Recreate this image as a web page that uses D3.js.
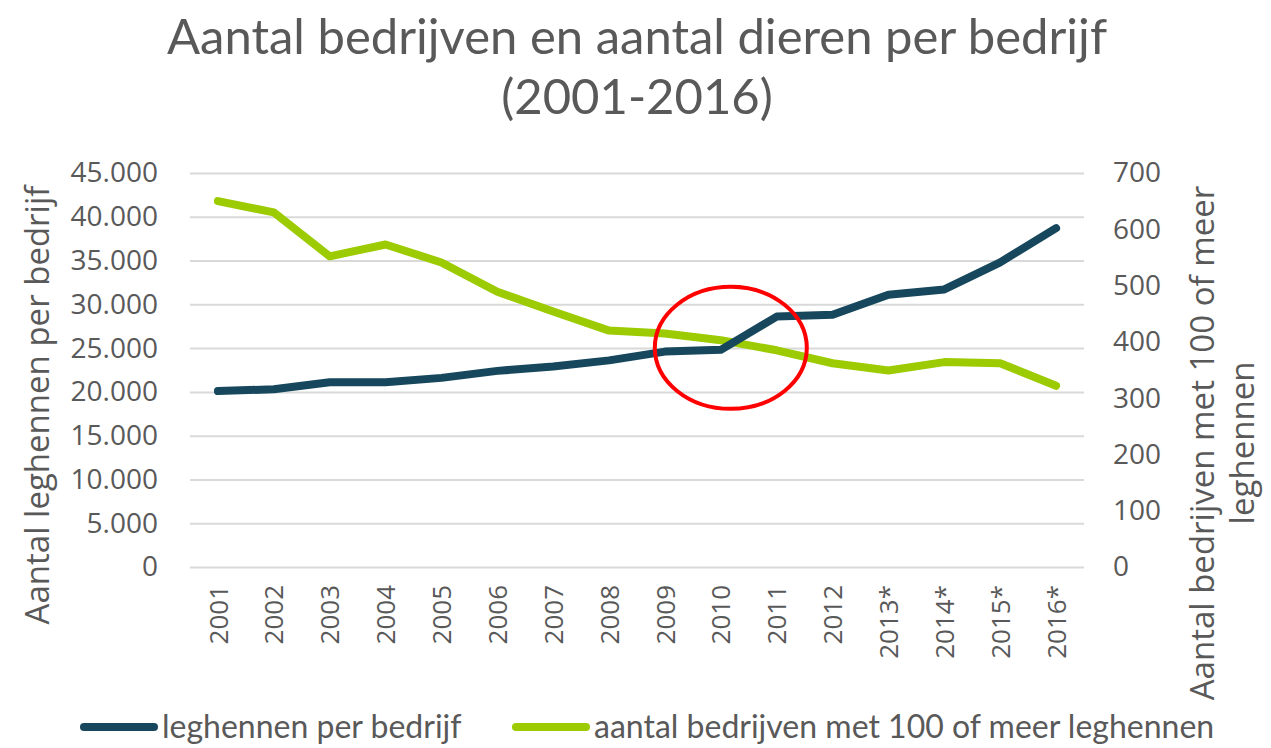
<!DOCTYPE html>
<html>
<head>
<meta charset="utf-8">
<script src="https://cdn.jsdelivr.net/npm/d3@7"></script>
<style>
	body { margin: 0; background: #fff; }
	text { fill: #595959; }
</style>
</head>
<body>
<div id="chart"></div>
<script>
// data
var categories = ['2001', '2002', '2003', '2004', '2005', '2006', '2007', '2008',
	'2009', '2010', '2011', '2012', '2013*', '2014*', '2015*', '2016*'];
var leghennenPerBedrijf = [20100, 20300, 21100, 21100, 21600, 22400, 22900, 23600,
	24600, 24800, 28600, 28800, 31100, 31700, 34800, 38700];
var bedrijven100 = [650, 630, 552, 573, 541, 489, 454, 420,
	415, 403, 385, 362, 349, 364, 362, 322];
var leftTicks = [0, 5000, 10000, 15000, 20000, 25000, 30000, 35000, 40000, 45000];
var rightTicks = [0, 100, 200, 300, 400, 500, 600, 700];
var seriesNames = ['leghennen per bedrijf', 'aantal bedrijven met 100 of meer leghennen'];

var width = 1271, height = 748;
var margin = { top: 173, right: 187, bottom: 181, left: 190 };
var innerW = width - margin.left - margin.right,
	innerH = height - margin.top - margin.bottom;
var darkColor = '#17475c', greenColor = '#9bcb00';
var font = "'Open Sans', sans-serif";

var nl = d3.formatLocale({ decimal: ',', thousands: '.', grouping: [3], currency: ['€', ''] });
var fmt = nl.format(',.0f');

var svg = d3.select('#chart')
	.append('svg')
	.attr('width', width)
	.attr('height', height)
	.style('font-family', font);

var chart = svg.append('g')
	.attr('transform', 'translate(' + margin.left + ', ' + margin.top + ')');

// scales
var xScale = d3.scalePoint()
	.domain(categories)
	.range([0, innerW])
	.padding(0.5);

var yLeft = d3.scaleLinear().domain([0, 45000]).range([innerH, 0]);
var yRight = d3.scaleLinear().domain([0, 700]).range([innerH, 0]);

// grid lines
chart.append('g')
	.attr('class', 'grid')
	.call(d3.axisLeft(yLeft).tickValues(leftTicks).tickSize(-innerW).tickFormat(''))
	.call(g => g.select('.domain').remove())
	.selectAll('line')
	.attr('stroke', '#d9d9d9')
	.attr('stroke-width', 2);

// left axis
chart.append('g')
	.attr('class', 'y axis')
	.call(d3.axisLeft(yLeft).tickValues(leftTicks).tickFormat(fmt).tickSize(0).tickPadding(32))
	.call(g => g.select('.domain').remove())
	.selectAll('text')
	.style('font-family', font)
	.style('font-size', '28px')
	.attr('fill', '#595959');

// right axis
chart.append('g')
	.attr('class', 'y axis right')
	.attr('transform', 'translate(' + innerW + ', 0)')
	.call(d3.axisRight(yRight).tickValues(rightTicks).tickSize(0).tickPadding(29))
	.call(g => g.select('.domain').remove())
	.selectAll('text')
	.style('font-family', font)
	.style('font-size', '28px')
	.attr('fill', '#595959');

// x axis, labels rotated
chart.append('g')
	.attr('class', 'x axis')
	.attr('transform', 'translate(0, ' + innerH + ')')
	.call(d3.axisBottom(xScale).tickSize(0))
	.call(g => g.select('.domain').remove())
	.selectAll('text')
	.style('font-family', font)
	.style('font-size', '26px')
	.attr('fill', '#595959')
	.attr('text-anchor', 'end')
	.attr('dy', '0.35em')
	.attr('x', -18)
	.attr('y', 0)
	.attr('transform', 'rotate(-90)');

// lines
var line = function (scale) {
	return d3.line()
		.x(function (d, i) { return xScale(categories[i]); })
		.y(function (d) { return scale(d); });
};

chart.append('path')
	.datum(bedrijven100)
	.attr('fill', 'none')
	.attr('stroke', greenColor)
	.attr('stroke-width', 8)
	.attr('stroke-linejoin', 'round')
	.attr('stroke-linecap', 'round')
	.attr('d', line(yRight));

chart.append('path')
	.datum(leghennenPerBedrijf)
	.attr('fill', 'none')
	.attr('stroke', darkColor)
	.attr('stroke-width', 8)
	.attr('stroke-linejoin', 'round')
	.attr('stroke-linecap', 'round')
	.attr('d', line(yLeft));

// red circle around the crossing
chart.append('ellipse')
	.attr('cx', xScale('2010') + 10)
	.attr('cy', yLeft(24800) - 2)
	.attr('rx', 76)
	.attr('ry', 61)
	.attr('fill', 'none')
	.attr('stroke', '#ff0000')
	.attr('stroke-width', 4);

// title
var title = svg.append('text')
	.attr('text-anchor', 'middle')
	.style('font-family', "Lato, sans-serif")
	.style('font-size', '49px');
title.append('tspan').attr('x', 637).attr('y', 54).text('Aantal bedrijven en aantal dieren per bedrijf');
title.append('tspan').attr('x', 637).attr('y', 114).text('(2001-2016)');

// axis titles
svg.append('text')
	.attr('transform', 'translate(49, 405) rotate(-90)')
	.attr('text-anchor', 'middle')
	.style('font-size', '33px')
	.text('Aantal leghennen per bedrijf');

var rTitle = svg.append('text')
	.attr('transform', 'translate(1214, 443) rotate(-90)')
	.attr('text-anchor', 'middle')
	.style('font-size', '33px');
rTitle.append('tspan').attr('x', 0).attr('y', 0).text('Aantal bedrijven met 100 of meer');
rTitle.append('tspan').attr('x', 0).attr('y', 40).text('leghennen');

// legend
var legendX = [80, 512];
var legend = svg.selectAll('.legend')
	.data(seriesNames)
	.enter()
	.append('g')
	.attr('class', 'legend')
	.attr('transform', function (d, i) { return 'translate(' + legendX[i] + ', 727)'; });

legend.append('line')
	.attr('x1', 4).attr('x2', 74)
	.attr('stroke', function (d, i) { return i === 0 ? darkColor : greenColor; })
	.attr('stroke-width', 8)
	.attr('stroke-linecap', 'round');

legend.append('text')
	.attr('x', 82)
	.attr('dy', '0.35em')
	.style('font-family', "Lato, sans-serif")
	.style('font-size', '32px')
	.text(function (d) { return d; });
</script>
</body>
</html>
